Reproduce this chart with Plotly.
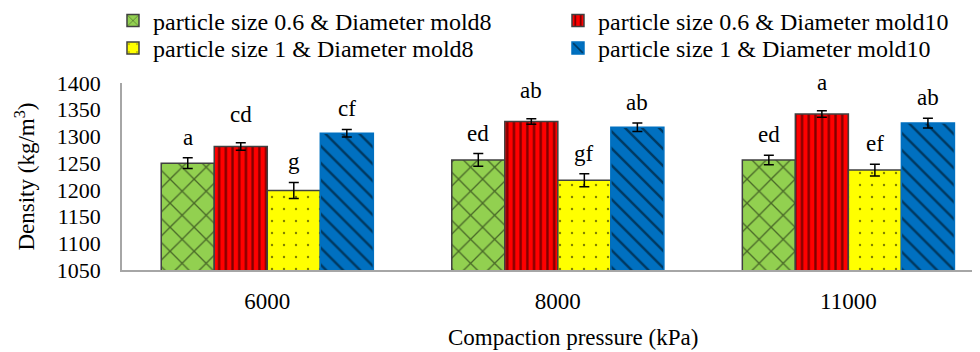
import plotly.graph_objects as go

categories = ["6000", "8000", "11000"]
series_names = [
    "particle size 0.6 & Diameter mold8",
    "particle size 0.6 & Diameter mold10",
    "particle size 1 & Diameter mold8",
    "particle size 1 & Diameter mold10",
]
vals_06_m8 = [1250, 1256, 1256]
vals_06_m10 = [1281, 1328, 1342]
vals_1_m8 = [1199, 1218, 1237]
vals_1_m10 = [1306, 1317, 1325]
err_06_m8 = [10, 12, 9]
err_06_m10 = [7, 5, 6]
err_1_m8 = [15, 12, 11]
err_1_m10 = [7, 8, 9]
letters_06_m8 = ["a", "ed", "ed"]
letters_06_m10 = ["cd", "ab", "a"]
letters_1_m8 = ["g", "gf", "ef"]
letters_1_m10 = ["cf", "ab", "ab"]

values = [vals_06_m8, vals_06_m10, vals_1_m8, vals_1_m10]
errors = [err_06_m8, err_06_m10, err_1_m8, err_1_m10]
letters = [letters_06_m8, letters_06_m10, letters_1_m8, letters_1_m10]

colors = ["#92D050", "#FF0000", "#FFFF00", "#0070C0"]
outlines = ["#404040", "#404040", "#404040", "#0070C0"]
patterns = [
    dict(shape="x", size=17, solidity=0.15, fgcolor="black"),
    dict(shape="|", size=6.7, solidity=0.35, fgcolor="black"),
    dict(shape=".", size=12, solidity=0.03, fgcolor="black"),
    dict(shape="\\", size=12, solidity=0.2, fgcolor="black"),
]
legend_ids = ["legend", "legend", "legend2", "legend2"]
label_shift = [6, 14, 6, 6]

FONT = "Liberation Serif, Times New Roman, serif"
bargap = 0.27
xs = list(range(len(categories)))

fig = go.Figure()
for j in range(4):
    fig.add_trace(go.Bar(
        x=xs, y=values[j], name=series_names[j], legend=legend_ids[j],
        marker=dict(color=colors[j], pattern=patterns[j],
                    line=dict(color=outlines[j], width=1.5)),
        error_y=dict(type="data", array=errors[j], color="black",
                     thickness=1.5, width=5),
    ))

annotations = []
n = 4
for j in range(n):
    off = (j - (n - 1) / 2) * (1 - bargap) / n
    for i in xs:
        annotations.append(dict(
            x=i + off, y=values[j][i] + errors[j][i], xref="x", yref="y",
            text=letters[j][i], showarrow=False, yanchor="bottom",
            yshift=label_shift[j], font=dict(family=FONT, size=23, color="black"),
        ))

annotations.append(dict(
    text="Density (kg/m<sup>3</sup>)", textangle=-90, xref="paper", yref="paper",
    x=-0.113, y=0.5, xanchor="center", yanchor="middle", showarrow=False,
    font=dict(family=FONT, size=23, color="black"),
))
annotations.append(dict(
    text="Compaction pressure (kPa)", xref="paper", yref="paper",
    x=0.526, y=-0.36, xanchor="center", yanchor="middle", showarrow=False,
    font=dict(family=FONT, size=23, color="black"),
))

legend_common = dict(orientation="h", xanchor="left", yanchor="top",
                     xref="paper", yref="paper",
                     entrywidth=400, entrywidthmode="pixels",
                     font=dict(family=FONT, size=24, color="black"),
                     bgcolor="rgba(0,0,0,0)", borderwidth=0)

# the page body adds an 8px offset, so the figure is 8px smaller and margins compensate
fig.update_layout(
    width=972, height=344,
    margin=dict(l=114, r=0, t=75, b=82, autoexpand=False),
    paper_bgcolor="white", plot_bgcolor="white",
    barmode="group", bargap=bargap, bargroupgap=0,
    font=dict(family=FONT, size=22, color="black"),
    showlegend=True,
    legend=dict(x=-0.0105, y=1.452, **legend_common),
    legend2=dict(x=-0.0105, y=1.305, **legend_common),
    annotations=annotations,
    xaxis=dict(range=[-0.5, 2.453], tickvals=xs, ticktext=categories,
               showline=True, linecolor="#A6A6A6", linewidth=1.5,
               showgrid=False, zeroline=False, ticks="",
               ticklabelstandoff=10, tickfont=dict(family=FONT, size=23)),
    yaxis=dict(range=[1050, 1400], tickvals=[1050, 1100, 1150, 1200, 1250, 1300, 1350, 1400],
               showline=True, linecolor="#A6A6A6", linewidth=1.5,
               showgrid=False, zeroline=False, ticks="",
               ticklabelstandoff=15, tickfont=dict(family=FONT, size=22)),
)

fig.write_html("out.html")
